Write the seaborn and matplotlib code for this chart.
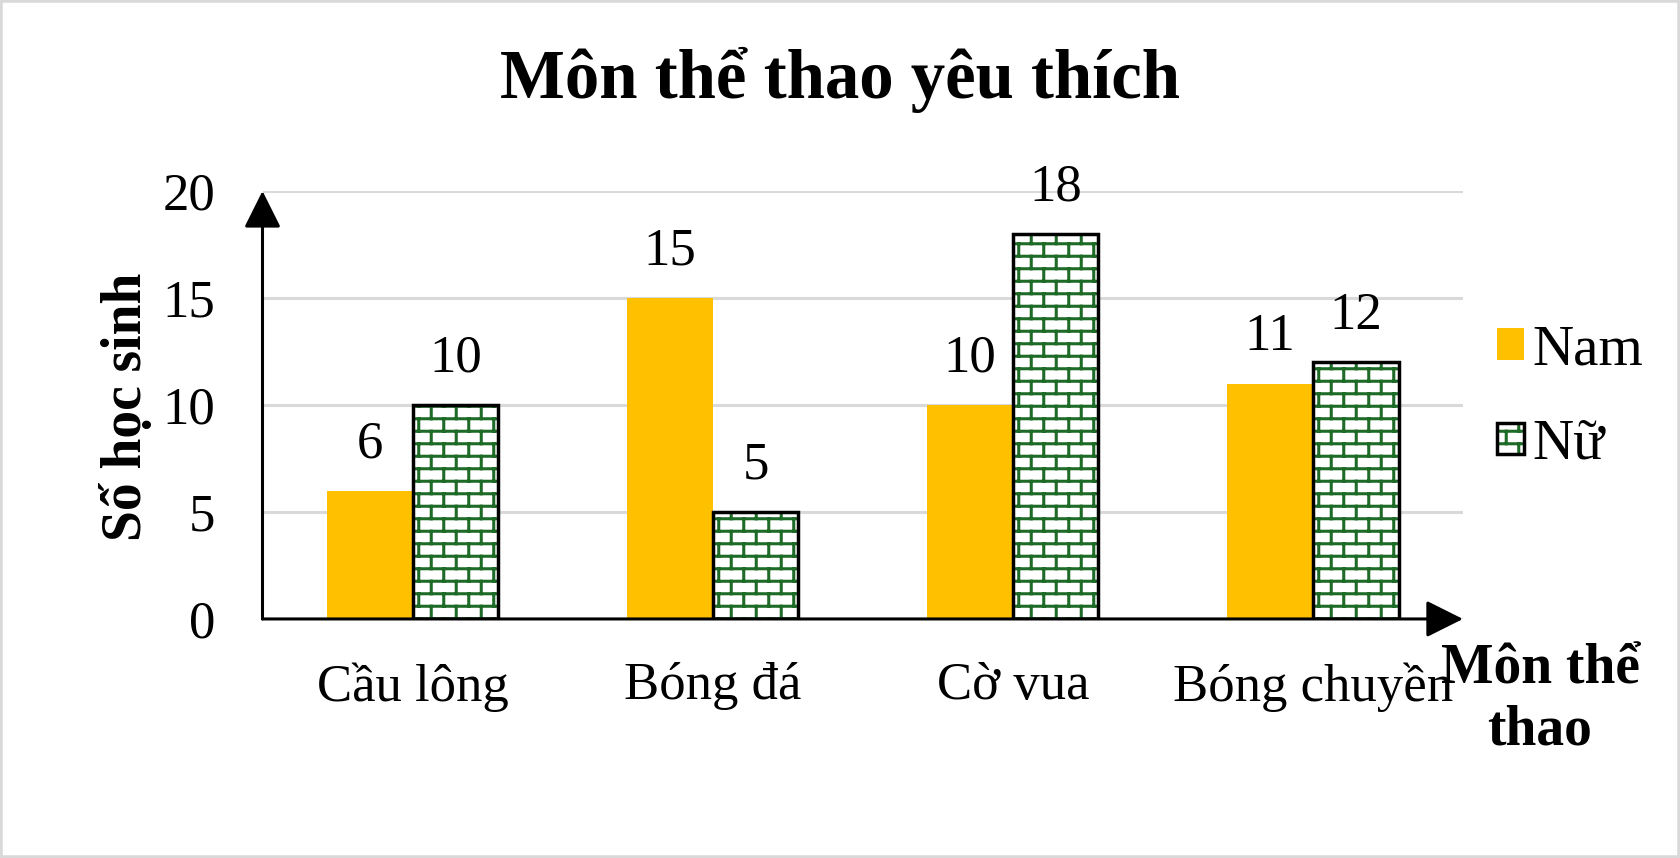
import warnings
import numpy as np
import pandas as pd
import matplotlib
matplotlib.use("Agg")
import matplotlib.pyplot as plt
import matplotlib.hatch as mhatch
from matplotlib.path import Path
from matplotlib.patches import Rectangle, Patch
from matplotlib.legend_handler import HandlerTuple
import seaborn as sns

warnings.filterwarnings("ignore")

# ---------------- data ----------------
categories = ["Cầu lông", "Bóng đá", "Cờ vua", "Bóng chuyền"]
nam_values = [6, 15, 10, 11]
nu_values = [10, 5, 18, 12]
series_names = ["Nam", "Nữ"]
y_ticks = [0, 5, 10, 15, 20]
title_text = "Môn thể thao yêu thích"
y_label = "Số học sinh"
x_label = "Môn thể\nthao"

# ---------------- brick hatch ----------------
class BrickHatch(mhatch.HatchPatternBase):
    ROWS = 8
    COLS = 4

    def __init__(self, hatch, density):
        self.active = "b" in hatch
        if self.active:
            self.segs = self._segments()
            self.num_vertices = 2 * len(self.segs)
        else:
            self.num_vertices = 0

    def _segments(self):
        R, C = self.ROWS, self.COLS
        segs = []
        for k in range(R):
            y = (k + 0.5) / R
            segs.append(((0.0, y), (1.0, y)))
        for k in range(R):
            y0 = (k + 0.5) / R
            y1 = (k + 1.5) / R
            off = 0.25 if k % 2 == 0 else 0.75
            for j in range(C):
                x = (j + off) / C
                if y1 <= 1.0:
                    segs.append(((x, y0), (x, y1)))
                else:
                    segs.append(((x, y0), (x, 1.0)))
                    segs.append(((x, 0.0), (x, y1 - 1.0)))
        return segs

    def set_vertices_and_codes(self, vertices, codes):
        for i, (a, b) in enumerate(self.segs):
            vertices[2 * i] = a
            vertices[2 * i + 1] = b
            codes[2 * i] = Path.MOVETO
            codes[2 * i + 1] = Path.LINETO


mhatch._hatch_types.append(BrickHatch)

# ---------------- style ----------------
sns.set_theme(style="white")
plt.rcParams["font.family"] = ["Liberation Serif", "DejaVu Serif"]
plt.rcParams["hatch.linewidth"] = 2.2
for k in ["text.color", "axes.labelcolor", "xtick.color", "ytick.color"]:
    plt.rcParams[k] = "black"

NAM_COLOR = "#FFC000"
BRICK_COLOR = "#1D6B26"
GRID_COLOR = "#D9D9D9"
FS = 38

df = pd.DataFrame({
    "Môn": categories * 2,
    "Số": nam_values + nu_values,
    "Giới": [series_names[0]] * len(categories) + [series_names[1]] * len(categories),
})

fig = plt.figure(figsize=(16.8, 8.58), dpi=100)
ax = fig.add_axes([0.15625, 0.2786, 0.8708 - 0.15625, 0.7774 - 0.2786])

sns.barplot(data=df, x="Môn", y="Số", hue="Giới", hue_order=series_names,
            palette=[NAM_COLOR, "white"], width=0.571, saturation=1,
            legend=False, ax=ax, errorbar=None)

ax.set_xlim(-0.5, len(categories) - 0.5)
ax.set_ylim(0, 20)
ax.set_yticks(y_ticks)

nam_container, nu_container = ax.containers[0], ax.containers[1]
for p in nam_container:
    p.set_edgecolor("none")
    p.set_linewidth(0)
for p in nu_container:
    p.set_facecolor("white")
    p.set_edgecolor(BRICK_COLOR)
    p.set_linewidth(0)
    p.set_hatch("b")
    r = Rectangle((p.get_x(), p.get_y()), p.get_width(), p.get_height(),
                  fill=False, edgecolor="black", linewidth=2.5, zorder=p.get_zorder() + 0.1)
    ax.add_patch(r)

for c in ax.containers:
    ax.bar_label(c, labels=[f"{v:g}" for v in c.datavalues], padding=16,
                 fontsize=FS, color="black")

# grid and axes
ax.grid(False)
ax.yaxis.grid(True, color=GRID_COLOR, linewidth=2.2)
ax.set_axisbelow(True)
for s in ["top", "right", "left", "bottom"]:
    ax.spines[s].set_visible(False)

arrow_style = "-|>,head_length=1.9,head_width=0.95"
ax.annotate("", xy=(0, 1), xytext=(0, 0), xycoords="axes fraction",
            arrowprops=dict(arrowstyle=arrow_style, color="black", lw=2.2,
                            shrinkA=0, shrinkB=0))
ax.annotate("", xy=(1, 0), xytext=(0, 0), xycoords="axes fraction",
            arrowprops=dict(arrowstyle=arrow_style, color="black", lw=2.2,
                            shrinkA=0, shrinkB=0))

ax.tick_params(axis="both", length=0, labelsize=FS, colors="black")
ax.tick_params(axis="y", pad=34)
ax.tick_params(axis="x", pad=31)
ax.set_xlabel("")
ax.set_ylabel("")

fig.text(0.5, 0.907, title_text, ha="center", va="center",
         fontsize=49.5, fontweight="bold")
fig.text(0.075, 0.5256, y_label, ha="center", va="center", rotation=90,
         fontsize=40, fontweight="bold")
fig.text(0.9167, 0.184, x_label, ha="center", va="center",
         fontsize=40, fontweight="bold", linespacing=1.22)

# legend
h_nam = Patch(facecolor=NAM_COLOR, edgecolor="none")
h_nu_fill = Patch(facecolor="white", edgecolor=BRICK_COLOR, linewidth=0, hatch="b")
h_nu_edge = Patch(facecolor="none", edgecolor="black", linewidth=2.5)
fig.legend([h_nam, (h_nu_fill, h_nu_edge)], series_names,
           handler_map={tuple: HandlerTuple(ndivide=1, pad=0)},
           loc="upper left", bbox_to_anchor=(0.891, 0.622),
           frameon=False, fontsize=41, handlelength=0.47, handleheight=0.47,
           handletextpad=0.15, labelspacing=0.74, borderaxespad=0, borderpad=0)

fig.add_artist(Rectangle((0, 0), 1, 1, transform=fig.transFigure, fill=False,
                         edgecolor="#D9D9D9", linewidth=4))

fig.savefig("out.png", dpi=100)
